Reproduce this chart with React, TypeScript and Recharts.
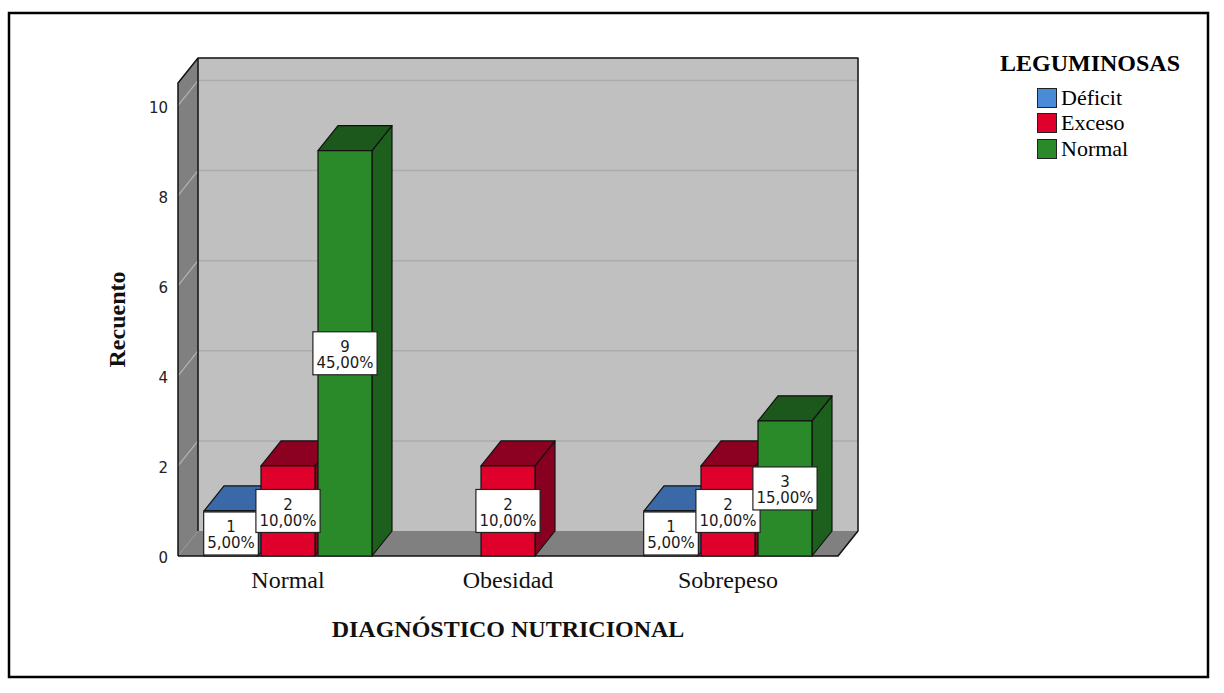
import React from 'react'
import { BarChart, Bar, XAxis, YAxis, Legend, LabelList, Customized } from 'recharts'

const categories = ['Normal', 'Obesidad', 'Sobrepeso']
const deficit = [1, null, 1]
const exceso = [2, 2, 2]
const normal = [9, null, 3]
const yTicks = [0, 2, 4, 6, 8, 10]

const SERIF = '"Liberation Serif", "Times New Roman", serif'
const SANS = '"DejaVu Sans", Tahoma, sans-serif'

// layout of the 3D box
const W = 1224
const H = 693
const PLOT_LEFT = 178
const PLOT_RIGHT = 838
const PLOT_TOP = 83
const PLOT_BOTTOM = 556
const Y_MAX = 10.5
const DX = 20
const DY = 25

const SERIES = [
  { key: 'deficit', name: 'Déficit', front: '#4a8bd8', top: '#3b69a7', side: '#2f5a92' },
  { key: 'exceso', name: 'Exceso', front: '#e0002c', top: '#8c0022', side: '#88001f' },
  { key: 'normal', name: 'Normal', front: '#2a8a2a', top: '#1c571c', side: '#1d5f1d' },
]

const data = categories.map((name, i) => ({
  name,
  deficit: deficit[i],
  exceso: exceso[i],
  normal: normal[i],
}))

const total = [...deficit, ...exceso, ...normal].reduce((s: number, v) => s + (v ?? 0), 0)

const pct = (v: number) => ((v / total) * 100).toFixed(2).replace('.', ',') + '%'

let ctx: CanvasRenderingContext2D | null = null
const measure = (s: string) => {
  if (!ctx) ctx = document.createElement('canvas').getContext('2d')
  if (!ctx) return s.length * 9
  ctx.font = `15px ${SANS}`
  return ctx.measureText(s).width
}

const yOf = (v: number) => PLOT_BOTTOM - (v / Y_MAX) * (PLOT_BOTTOM - PLOT_TOP)

// back wall, left wall, floor and the outer border
const Frame3D = () => {
  const bl = PLOT_LEFT + DX
  const br = PLOT_RIGHT + DX
  const topBack = PLOT_TOP - DY
  const floorBack = PLOT_BOTTOM - DY
  return (
    <g>
      <rect x={9} y={13} width={1199} height={664} fill="none" stroke="#000" strokeWidth={2.5} />
      <rect x={bl} y={topBack} width={br - bl} height={floorBack - topBack} fill="#c0c0c0" />
      {yTicks.filter((t) => t > 0).map((t) => (
        <line key={t} x1={bl} x2={br} y1={yOf(t) - DY} y2={yOf(t) - DY} stroke="#acacac" strokeWidth={1.5} />
      ))}
      <polygon
        points={`${PLOT_LEFT},${PLOT_TOP} ${bl},${topBack} ${bl},${floorBack} ${PLOT_LEFT},${PLOT_BOTTOM}`}
        fill="#808080"
      />
      {yTicks.filter((t) => t > 0).map((t) => (
        <line key={t} x1={PLOT_LEFT} x2={bl} y1={yOf(t)} y2={yOf(t) - DY} stroke="#b4b4b4" strokeWidth={1.2} />
      ))}
      <polygon
        points={`${PLOT_LEFT},${PLOT_BOTTOM} ${bl},${floorBack} ${br},${floorBack} ${PLOT_RIGHT},${PLOT_BOTTOM}`}
        fill="#808080"
      />
      <g fill="none" stroke="#111" strokeWidth={1.5} strokeLinejoin="round">
        <polyline points={`${PLOT_LEFT},${PLOT_BOTTOM} ${PLOT_LEFT},${PLOT_TOP} ${bl},${topBack} ${br},${topBack} ${br},${floorBack} ${PLOT_RIGHT},${PLOT_BOTTOM} ${PLOT_LEFT},${PLOT_BOTTOM}`} />
        <line x1={bl} y1={topBack} x2={bl} y2={floorBack} />
      </g>
    </g>
  )
}

const makeBox = (s: typeof SERIES[number]) => (props: any) => {
  const { x, y, width, height } = props
  if (height == null || height <= 0 || !isFinite(y)) return <g />
  const r = x + width
  return (
    <g stroke="#111" strokeWidth={1.2} strokeLinejoin="round">
      <polygon points={`${r},${y} ${r + DX},${y - DY} ${r + DX},${y + height - DY} ${r},${y + height}`} fill={s.side} />
      <polygon points={`${x},${y} ${x + DX},${y - DY} ${r + DX},${y - DY} ${r},${y}`} fill={s.top} />
      <rect x={x} y={y} width={width} height={height} fill={s.front} />
    </g>
  )
}

const ValueLabel = (props: any) => {
  const vb = props.viewBox ?? props
  const value = props.value
  if (value == null || value === 0) return null
  const x = vb.x ?? props.x
  const y = vb.y ?? props.y
  const width = vb.width ?? props.width
  const height = vb.height ?? props.height
  const lines = [String(value), pct(Number(value))]
  const w = Math.max(...lines.map(measure)) + 7
  const h = 43
  const cx = x + width / 2
  const cy = y + height / 2
  return (
    <g>
      <rect x={cx - w / 2} y={cy - h / 2} width={w} height={h} fill="#fff" stroke="#222" strokeWidth={1.2} />
      <text textAnchor="middle" fontFamily={SANS} fontSize={15} fill="#1a1a1a">
        <tspan x={cx} y={cy - 1}>{lines[0]}</tspan>
        <tspan x={cx} y={cy + 15}>{lines[1]}</tspan>
      </text>
    </g>
  )
}

const XTick = ({ x, payload }: any) => (
  <text x={x} y={PLOT_BOTTOM + 32} textAnchor="middle" fontFamily={SERIF} fontSize={24} fill="#111">
    {payload.value}
  </text>
)

const YTick = ({ x, y, payload }: any) => (
  <text x={x} y={y + 7} textAnchor="end" fontFamily={SANS} fontSize={15} fill="#222">
    {payload.value}
  </text>
)

const LegendBox = () => (
  <div style={{ fontFamily: SERIF, color: '#000' }}>
    <div style={{ fontWeight: 'bold', fontSize: 24, lineHeight: '28px', textAlign: 'center' }}>LEGUMINOSAS</div>
    <div style={{ marginLeft: 52, marginTop: 8 }}>
      {SERIES.map((s) => (
        <div key={s.key} style={{ display: 'flex', alignItems: 'center', height: 25.5 }}>
          <span
            style={{
              display: 'inline-block',
              width: 20,
              height: 20,
              background: s.front,
              border: '1px solid #222',
              boxSizing: 'border-box',
              marginRight: 4,
            }}
          />
          <span style={{ fontSize: 22, lineHeight: '24px' }}>{s.name}</span>
        </div>
      ))}
    </div>
  </div>
)

export default function App() {
  return (
    <div style={{ position: 'absolute', left: 0, top: 0, width: W, height: H, background: '#fff' }}>
      <BarChart
        width={W}
        height={H}
        data={data}
        margin={{ top: PLOT_TOP, right: W - PLOT_RIGHT - 210, bottom: H - PLOT_BOTTOM - 30, left: PLOT_LEFT - 60 }}
        barCategoryGap={26}
        barGap={3}
      >
        <Customized component={Frame3D} />
        <XAxis
          dataKey="name"
          axisLine={false}
          tickLine={false}
          tickSize={0}
          tickMargin={0}
          height={30}
          tick={<XTick />}
          interval={0}
        />
        <YAxis
          type="number"
          domain={[0, Y_MAX]}
          ticks={yTicks}
          axisLine={false}
          tickLine={false}
          tickSize={0}
          tickMargin={10}
          width={60}
          tick={<YTick />}
        />
        <Legend
          layout="vertical"
          align="right"
          verticalAlign="top"
          content={<LegendBox />}
          wrapperStyle={{ position: 'absolute', left: 985, top: 49, width: 210, right: 'auto' }}
        />
        {SERIES.map((s) => (
          <Bar key={s.key} dataKey={s.key} name={s.name} fill={s.front} isAnimationActive={false} shape={makeBox(s)}>
            <LabelList dataKey={s.key} content={<ValueLabel />} />
          </Bar>
        ))}
        <text
          transform={`translate(125, ${(PLOT_TOP + PLOT_BOTTOM) / 2}) rotate(-90)`}
          textAnchor="middle"
          fontFamily={SERIF}
          fontWeight="bold"
          fontSize={24}
          fill="#111"
        >
          Recuento
        </text>
        <text
          x={(PLOT_LEFT + PLOT_RIGHT) / 2}
          y={637}
          textAnchor="middle"
          fontFamily={SERIF}
          fontWeight="bold"
          fontSize={24}
          fill="#111"
        >
          DIAGNÓSTICO NUTRICIONAL
        </text>
      </BarChart>
    </div>
  )
}
